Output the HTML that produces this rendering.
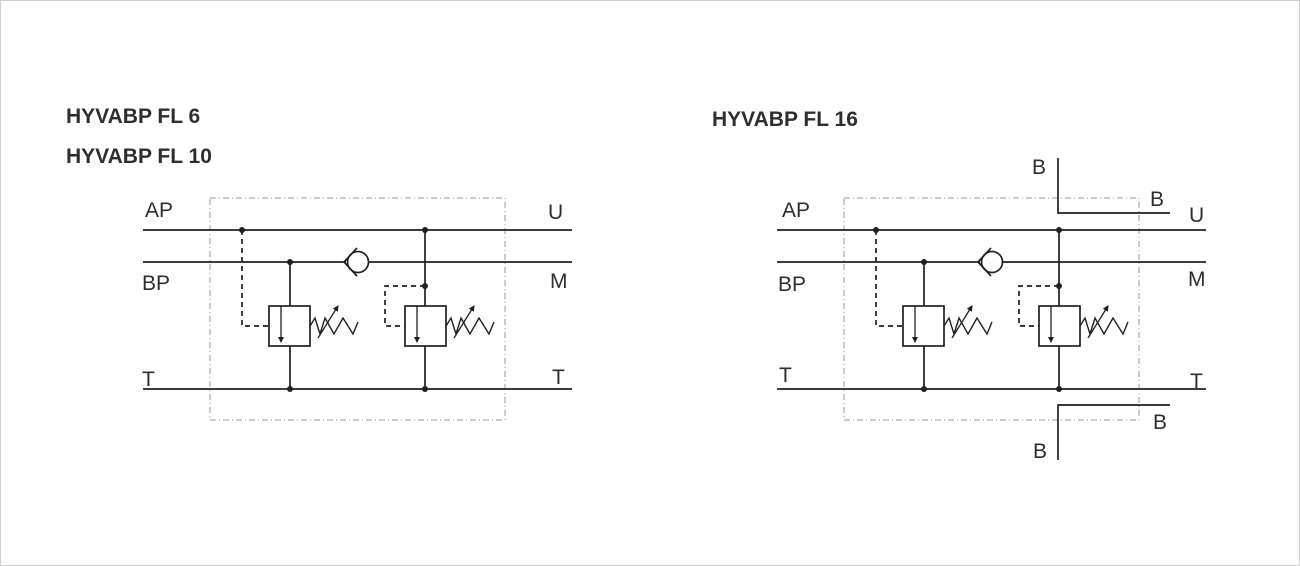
<!DOCTYPE html>
<html><head><meta charset="utf-8"><style>
html,body{margin:0;padding:0;background:#fff}
svg{display:block}
text{font-family:"Liberation Sans",Arial,sans-serif;fill:#2e2e2e}
</style></head><body>
<svg width="1300" height="566" viewBox="0 0 1300 566" xmlns="http://www.w3.org/2000/svg">
<rect x="0.5" y="0.5" width="1299" height="565" fill="#fff" stroke="#cfcfcf"/>
<defs>
<marker id="ah" markerWidth="6" markerHeight="6" refX="5" refY="3" orient="auto" markerUnits="userSpaceOnUse"><path d="M0,0 L6,3 L0,6 z" fill="#231f20"/></marker>
<g id="d" stroke="#231f20" stroke-width="1.7" fill="none">
<rect x="210" y="198" width="295" height="222" stroke="#999" stroke-width="1" stroke-dasharray="6,3,1,3"/>
<line x1="143" y1="230" x2="572" y2="230"/>
<line x1="143" y1="262" x2="346" y2="262"/>
<line x1="368" y1="262" x2="572" y2="262"/>
<line x1="143" y1="389" x2="572" y2="389"/>
<circle cx="358" cy="262" r="10.5"/>
<polyline points="357,248 344,262 357,276"/>
<polyline points="242,230 242,318 242,326 270,326" stroke-dasharray="5,4"/>
<line x1="290" y1="262" x2="290" y2="306"/>
<line x1="290" y1="346" x2="290" y2="389"/>
<rect x="269" y="306" width="41" height="40"/>
<line x1="281" y1="306" x2="281" y2="342" stroke-width="1.3" marker-end="url(#ah)"/>
<polyline points="310,326 315,318 320,334 325,318 334,334 343,318 353,334 358,322" stroke-width="1.4"/>
<line x1="318" y1="338" x2="338" y2="306" stroke-width="1.3" marker-end="url(#ah)"/>
<line x1="425" y1="230" x2="425" y2="306"/>
<line x1="425" y1="346" x2="425" y2="389"/>
<polyline points="425,286 385,286 385,326 405,326" stroke-dasharray="5,4"/>
<rect x="405" y="306" width="41" height="40"/>
<line x1="417" y1="306" x2="417" y2="342" stroke-width="1.3" marker-end="url(#ah)"/>
<polyline points="446,326 451,318 456,334 461,318 470,334 479,318 489,334 494,322" stroke-width="1.4"/>
<line x1="454" y1="338" x2="474" y2="306" stroke-width="1.3" marker-end="url(#ah)"/>
<g fill="#231f20" stroke="none">
<circle cx="242" cy="230" r="3"/><circle cx="290" cy="262" r="3"/><circle cx="290" cy="389" r="3"/>
<circle cx="425" cy="230" r="3"/><circle cx="425" cy="286" r="3"/><circle cx="425" cy="389" r="3"/>
</g>
</g>
</defs>
<use href="#d"/>
<use href="#d" transform="translate(634,0)"/>
<g stroke="#231f20" stroke-width="1.7" fill="none">
<polyline points="1058,158 1058,213 1170,213"/>
<polyline points="1058,460 1058,405 1170,405"/>
</g>
<g font-size="21" font-weight="bold">
<text x="66" y="123">HYVABP FL 6</text>
<text x="66" y="163">HYVABP FL 10</text>
<text x="712" y="126">HYVABP FL 16</text>
</g>
<g font-size="21">
<text x="145" y="217">AP</text><text x="142" y="290">BP</text><text x="142" y="386">T</text>
<text x="548" y="219">U</text><text x="550" y="288">M</text><text x="552" y="384">T</text>
<text x="782" y="217">AP</text><text x="778" y="291">BP</text><text x="779" y="382">T</text>
<text x="1189" y="222">U</text><text x="1188" y="286">M</text><text x="1190" y="388">T</text>
<text x="1032" y="174">B</text><text x="1150" y="206">B</text>
<text x="1153" y="429">B</text><text x="1033" y="458">B</text>
</g>
</svg>
</body></html>
